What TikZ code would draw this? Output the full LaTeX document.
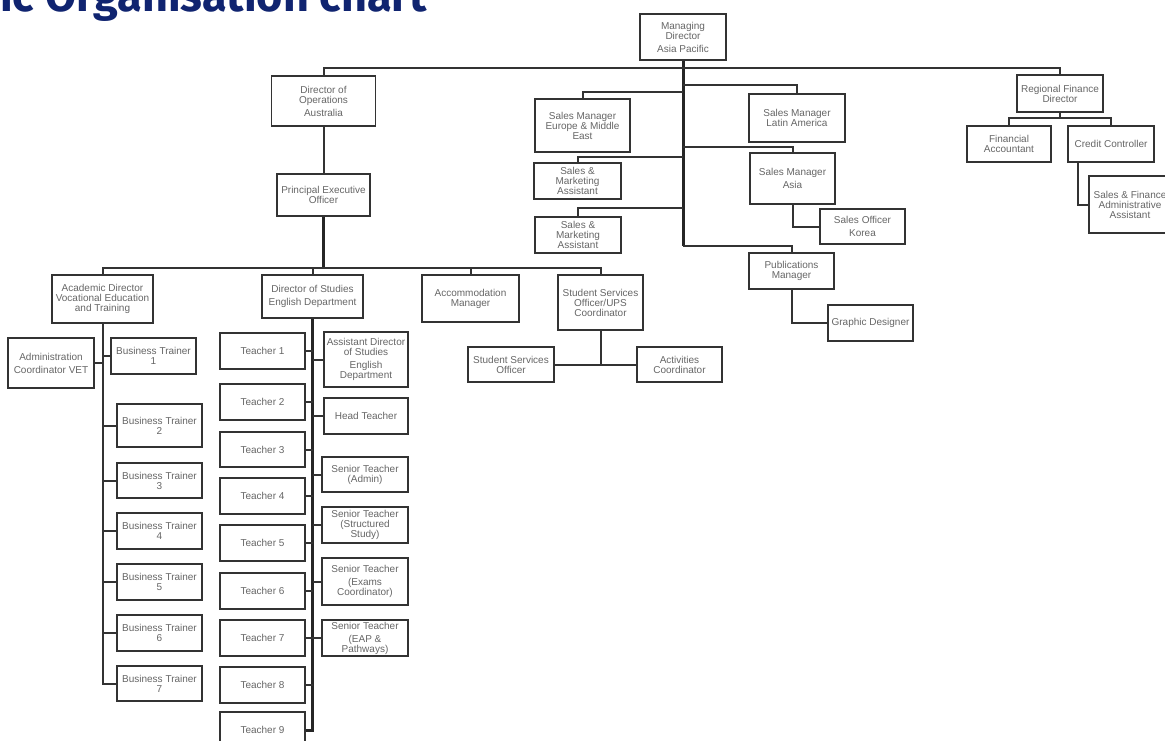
\documentclass[tikz,border=0pt]{standalone}
\usepackage{fontspec}
\setmainfont{Liberation Sans}
\newfontfamily\titlefont{Fira Sans}
\definecolor{titleblue}{RGB}{16,36,112}
\tikzset{
  box/.style={draw=black!80,line width=1.8pt,fill=white,align=center,inner sep=0.5pt,
    text=black!60,font=\fontsize{10}{10}\selectfont},
  link/.style={draw=black!80,line width=2pt},
  trunk/.style={draw=black!85,line width=3pt}
}

\begin{document}
\begin{tikzpicture}[x=1pt,y=-1pt]
  \useasboundingbox (0,0) rectangle (1165,740);

  % Title (cut by the page edge)
  \node[anchor=base west,inner sep=0,text=titleblue,
    font=\titlefont\bfseries\fontsize{45}{45}\selectfont] (title) at (0,11) {ic Organisation chart};

  % Top level
  \node[box,minimum width=86pt,minimum height=46pt] (md) at (683,37) {Managing\\Director\\[3pt]Asia Pacific};
  \node[box,minimum width=104pt,minimum height=50pt] (dirops) at (323.5,101) {Director of\\Operations\\[3pt]Australia};
  \node[box,minimum width=86pt,minimum height=37pt] (rfd) at (1060,93.5) {Regional Finance\\Director};

  % Sales and publications
  \node[box,minimum width=95pt,minimum height=53pt] (smeme) at (582.5,125.5) {Sales Manager\\Europe \& Middle\\East};
  \node[box,minimum width=96pt,minimum height=48pt] (smla) at (797,118) {Sales Manager\\Latin America};
  \node[box,minimum width=87pt,minimum height=36pt] (sma1) at (577.5,181) {Sales \&\\Marketing\\Assistant};
  \node[box,minimum width=86pt,minimum height=36pt] (sma2) at (578,235) {Sales \&\\Marketing\\Assistant};
  \node[box,minimum width=85pt,minimum height=51pt] (smasia) at (792.5,178.5) {Sales Manager\\[3pt]Asia};
  \node[box,minimum width=85pt,minimum height=35pt] (sokorea) at (862.5,226.5) {Sales Officer\\[3pt]Korea};
  \node[box,minimum width=85pt,minimum height=36pt] (pubman) at (791.5,271) {Publications\\Manager};
  \node[box,minimum width=85pt,minimum height=36pt] (graphic) at (870.5,323) {Graphic Designer};

  % Finance
  \node[box,minimum width=84pt,minimum height=36pt] (finacc) at (1009,144) {Financial\\Accountant};
  \node[box,minimum width=86pt,minimum height=36pt] (credit) at (1111,144) {Credit Controller};
  \node[box,minimum width=82pt,minimum height=57pt] (sfaa) at (1130,204.5) {Sales \& Finance\\Administrative\\Assistant};

  % Operations
  \node[box,minimum width=93pt,minimum height=42pt] (peo) at (323.5,195) {Principal Executive\\Officer};
  \node[box,minimum width=101pt,minimum height=48pt] (acad) at (102.5,299) {Academic Director\\Vocational Education\\and Training};
  \node[box,minimum width=101pt,minimum height=43pt] (dos) at (312.5,296.5) {Director of Studies\\[3pt]English Department};
  \node[box,minimum width=97pt,minimum height=47pt] (accom) at (470.5,298.5) {Accommodation\\Manager};
  \node[box,minimum width=85pt,minimum height=55pt] (ssups) at (600.5,302.5) {Student Services\\Officer/UPS\\Coordinator};
  \node[box,minimum width=86pt,minimum height=35pt] (sso) at (511,364.5) {Student Services\\Officer};
  \node[box,minimum width=85pt,minimum height=35pt] (activ) at (679.5,364.5) {Activities\\Coordinator};

  % Vocational education
  \node[box,minimum width=86pt,minimum height=50pt] (admin) at (51,363) {Administration\\[3pt]Coordinator VET};
  \node[box,minimum width=85pt,minimum height=36pt] (bt1) at (153.5,356) {Business Trainer\\1};
  \node[box,minimum width=85pt,minimum height=43pt] (bt2) at (159.5,425.5) {Business Trainer\\2};
  \node[box,minimum width=85pt,minimum height=35pt] (bt3) at (159.5,480.5) {Business Trainer\\3};
  \node[box,minimum width=85pt,minimum height=36pt] (bt4) at (159.5,531) {Business Trainer\\4};
  \node[box,minimum width=85pt,minimum height=36pt] (bt5) at (159.5,582) {Business Trainer\\5};
  \node[box,minimum width=85pt,minimum height=36pt] (bt6) at (159.5,633) {Business Trainer\\6};
  \node[box,minimum width=85pt,minimum height=35pt] (bt7) at (159.5,683.5) {Business Trainer\\7};

  % English department
  \node[box,minimum width=85pt,minimum height=36pt] (t1) at (262.5,351) {Teacher 1};
  \node[box,minimum width=85pt,minimum height=36pt] (t2) at (262.5,402) {Teacher 2};
  \node[box,minimum width=85pt,minimum height=35pt] (t3) at (262.5,449.5) {Teacher 3};
  \node[box,minimum width=85pt,minimum height=36pt] (t4) at (262.5,496) {Teacher 4};
  \node[box,minimum width=85pt,minimum height=36pt] (t5) at (262.5,543) {Teacher 5};
  \node[box,minimum width=85pt,minimum height=36pt] (t6) at (262.5,591) {Teacher 6};
  \node[box,minimum width=85pt,minimum height=36pt] (t7) at (262.5,638) {Teacher 7};
  \node[box,minimum width=85pt,minimum height=36pt] (t8) at (262.5,685) {Teacher 8};
  \node[box,minimum width=85pt,minimum height=36pt] (t9) at (262.5,730) {Teacher 9};
  \node[box,minimum width=84pt,minimum height=55pt] (adstud) at (366,359.5) {Assistant Director\\of Studies\\[3pt]English\\Department};
  \node[box,minimum width=84pt,minimum height=36pt] (headt) at (366,416) {Head Teacher};
  \node[box,minimum width=86pt,minimum height=35pt] (stadmin) at (365,474.5) {Senior Teacher\\(Admin)};
  \node[box,minimum width=86pt,minimum height=36pt] (ststruct) at (365,525) {Senior Teacher\\(Structured\\Study)};
  \node[box,minimum width=86pt,minimum height=47pt] (stexams) at (365,581.5) {Senior Teacher\\[3pt](Exams\\Coordinator)};
  \node[box,minimum width=86pt,minimum height=36pt] (steap) at (365,638) {Senior Teacher\\[3pt](EAP \&\\Pathways)};

  % Managing director links
  \coordinate (mdend) at (683,246);
  \draw[trunk] (md.south) -- (mdend);
  \draw[link] (dirops.north) |- (md.south |- 0,68) -| (rfd.north);
  \draw[link] (md.south |- 0,85) -| (smla.north);
  \draw[link] (md.south |- 0,92) -| (smeme.north);
  \draw[link] (md.south |- 0,147) -| (smasia.north);
  \draw[link] (md.south |- 0,157) -| (sma1.north);
  \draw[link] (md.south |- 0,208) -| (sma2.north);
  \draw[link] (mdend) -| (pubman.north);
  \draw[link] (smasia.south) |- (sokorea.west);
  \draw[link] (pubman.south) |- (graphic.west);

  % Finance links
  \draw[link] (rfd.south) -- (rfd.south |- 0,118);
  \draw[link] (finacc.north) |- (rfd.south |- 0,118) -| (credit.north);
  \draw[link] (credit.south -| 1078,0) |- (sfaa.west);

  % Operations links
  \draw[link] (dirops.south) -- (peo.north);
  \draw[trunk] (peo.south) -- (peo.south |- 0,268);
  \draw[link] (acad.north) |- (ssups.north |- 0,268) -- (ssups.north);
  \draw[link] (dos.north) -- (dos.north |- 0,268);
  \draw[link] (accom.north) -- (accom.north |- 0,268);
  \draw[link] (ssups.south) -- (ssups.south |- 0,365);
  \draw[link] (sso.east) -- (activ.west);

  % Trainers
  \draw[link] (acad.south) |- (bt7.west);
  \draw[link] (admin.east) -- (acad.south |- admin.east);
  \draw[link] (bt1.west) -- (acad.south |- bt1.west);
  \draw[link] (bt2.west) -- (acad.south |- bt2.west);
  \draw[link] (bt3.west) -- (acad.south |- bt3.west);
  \draw[link] (bt4.west) -- (acad.south |- bt4.west);
  \draw[link] (bt5.west) -- (acad.south |- bt5.west);
  \draw[link] (bt6.west) -- (acad.south |- bt6.west);

  % Teachers
  \draw[trunk] (dos.south) |- (t9.east);
  \draw[link] (t1.east) -- (dos.south |- t1.east);
  \draw[link] (t2.east) -- (dos.south |- t2.east);
  \draw[link] (t3.east) -- (dos.south |- t3.east);
  \draw[link] (t4.east) -- (dos.south |- t4.east);
  \draw[link] (t5.east) -- (dos.south |- t5.east);
  \draw[link] (t6.east) -- (dos.south |- t6.east);
  \draw[link] (t7.east) -- (dos.south |- t7.east);
  \draw[link] (t8.east) -- (dos.south |- t8.east);
  \draw[link] (adstud.west) -- (dos.south |- adstud.west);
  \draw[link] (headt.west) -- (dos.south |- headt.west);
  \draw[link] (stadmin.west) -- (dos.south |- stadmin.west);
  \draw[link] (ststruct.west) -- (dos.south |- ststruct.west);
  \draw[link] (stexams.west) -- (dos.south |- stexams.west);
  \draw[link] (steap.west) -- (dos.south |- steap.west);
\end{tikzpicture}
\end{document}
